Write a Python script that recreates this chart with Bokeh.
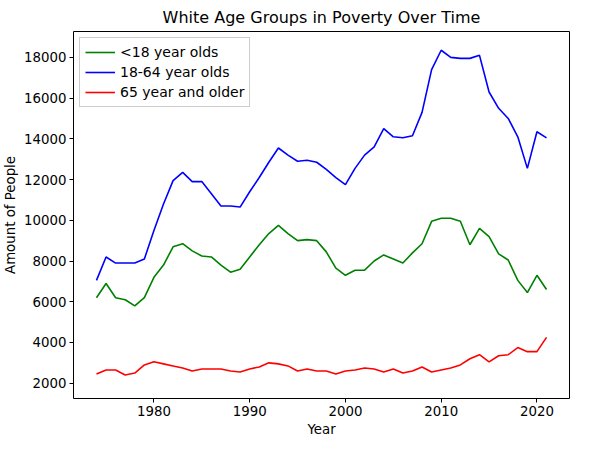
from bokeh.plotting import figure
from bokeh.models import Range1d, Legend, LegendItem, SingleIntervalTicker
from bokeh.embed import file_html
from bokeh.resources import INLINE

years = list(range(1974, 2022))
under18 = [6200, 6900, 6200, 6100, 5800, 6200, 7200, 7800, 8700, 8850, 8500, 8250, 8200, 7800, 7450, 7600,
           8200, 8800, 9350, 9750, 9350, 9000, 9050, 9000, 8450, 7650, 7300, 7550, 7550, 8000, 8300, 8100,
           7900, 8400, 8850, 9950, 10100, 10100, 9950, 8800, 9600, 9200, 8350, 8050, 7050, 6450, 7300, 6600]
adults = [7050, 8200, 7900, 7900, 7900, 8100, 9500, 10800, 11950, 12350, 11900, 11900, 11300, 10700, 10700, 10650,
          11400, 12100, 12850, 13550, 13200, 12900, 12950, 12850, 12500, 12100, 11750, 12550, 13200, 13600, 14500, 14100,
          14050, 14150, 15300, 17400, 18350, 18000, 17950, 17950, 18100, 16300, 15500, 15000, 14100, 12550, 14350, 14050]
seniors = [2450, 2650, 2650, 2400, 2500, 2900, 3050, 2950, 2850, 2750, 2600, 2700, 2700, 2700, 2600, 2550,
           2700, 2800, 3000, 2950, 2850, 2600, 2700, 2600, 2600, 2450, 2600, 2650, 2750, 2700, 2550, 2700,
           2500, 2600, 2800, 2550, 2650, 2750, 2900, 3200, 3400, 3050, 3350, 3400, 3750, 3550, 3550, 4250]

FONT = "DejaVu Sans"

p = figure(width=573, height=439, title="White Age Groups in Poverty Over Time",
           x_range=Range1d(1971.6, 2023.4), y_range=Range1d(1250, 19270),
           x_axis_label="Year", y_axis_label="Amount of People",
           output_backend="svg", toolbar_location=None)
p.title.align = "center"
p.title.text_font = FONT
p.title.text_font_size = "12pt"
p.title.text_font_style = "normal"
p.title.text_color = "black"
p.grid.visible = False
p.outline_line_color = "black"
p.min_border_left = 66
p.min_border_right = 4
p.min_border_top = 8
p.min_border_bottom = 20

for ax in (p.xaxis, p.yaxis):
    ax.axis_label_text_font = FONT
    ax.axis_label_text_font_style = "normal"
    ax.axis_label_text_font_size = "10pt"
    ax.axis_label_text_color = "black"
    ax.axis_label_standoff = 3
    ax.major_label_text_font = FONT
    ax.major_label_text_font_size = "10pt"
    ax.major_label_text_color = "black"
    ax.major_label_standoff = 3
    ax.minor_tick_line_color = None
    ax.major_tick_in = 0
    ax.major_tick_out = 4
    ax.axis_line_color = None
p.xaxis.ticker = SingleIntervalTicker(interval=10)
p.yaxis.ticker = SingleIntervalTicker(interval=2000)

r1 = p.line(years, under18, color="green", line_width=1.6)
r2 = p.line(years, adults, color="blue", line_width=1.6)
r3 = p.line(years, seniors, color="red", line_width=1.6)

legend = Legend(items=[LegendItem(label="<18 year olds", renderers=[r1]),
                       LegendItem(label="18-64 year olds", renderers=[r2]),
                       LegendItem(label="65 year and older", renderers=[r3])],
                location="top_left", label_text_font=FONT, label_text_font_size="10.5pt",
                label_text_color="black",
                border_line_color="#cccccc", border_line_alpha=1, spacing=2,
                padding=5, margin=6, glyph_height=18, glyph_width=30, label_height=18)
p.add_layout(legend)

open("out.html", "w").write(file_html(p, INLINE))
